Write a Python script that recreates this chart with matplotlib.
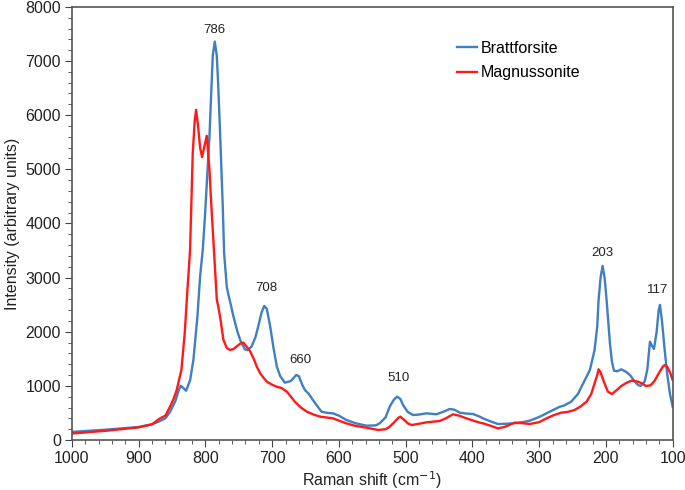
import matplotlib
matplotlib.use("Agg")
import matplotlib.pyplot as plt
from matplotlib.ticker import MultipleLocator

plt.rcParams["font.family"] = ["Liberation Sans", "DejaVu Sans"]

# Brattforsite (blue)
bratt_x = [1000, 950, 900, 880, 870, 860, 853, 845, 840, 837, 833, 829, 823, 818,
           812, 808, 804, 801, 794, 791, 789, 786, 783, 781, 778, 774, 772, 768,
           766, 762, 758, 752, 748, 741, 737, 731, 725, 721, 716, 712, 708, 703,
           698, 693, 688, 681, 672, 664, 660, 655, 651, 645, 639, 632, 626, 617,
           609, 600, 589, 575, 559, 545, 539, 530, 524, 518, 513, 508, 504, 497,
           489, 480, 469, 454, 444, 434, 427, 419, 410, 399, 389, 384, 372, 362,
           350, 339, 325, 314, 299, 288, 279, 270, 262, 252, 242, 234, 224, 217,
           213, 211, 208, 205, 202, 199, 196, 194, 191, 188, 183, 177, 170, 164,
           158, 152, 148, 142, 138, 134, 131, 128, 124, 121, 119, 116, 112, 108,
           104, 100]
bratt_y = [150, 190, 240, 290, 340, 400, 520, 720, 920, 1000, 960, 910, 1100, 1480,
           2280, 3020, 3510, 4070, 5600, 6500, 7100, 7360, 7100, 6600, 5670, 4300,
           3450, 2830, 2710, 2500, 2280, 2000, 1850, 1676, 1660, 1724, 1900, 2094,
           2350, 2476, 2420, 2100, 1700, 1355, 1180, 1059, 1090, 1201, 1180, 1020,
           924, 850, 739, 620, 523, 500, 493, 450, 370, 310, 265, 270, 308, 420,
           616, 740, 801, 760, 647, 520, 462, 470, 493, 475, 520, 573, 560, 505,
           490, 480, 431, 400, 340, 296, 300, 308, 330, 357, 431, 500, 554, 610,
           641, 708, 850, 1047, 1294, 1663, 2100, 2587, 3000, 3216, 3000, 2587,
           2100, 1786, 1450, 1281, 1270, 1306, 1260, 1201, 1100, 1016, 1000, 1078,
           1300, 1817, 1740, 1682, 2000, 2400, 2495, 2200, 1663, 1200, 850, 616]

# Magnussonite (red)
magn_x = [1000, 950, 900, 880, 868, 860, 853, 848, 843, 836, 831, 827, 823, 819,
          816, 814, 811, 808, 805, 802, 798, 794, 791, 787, 783, 778, 773, 768,
          763, 758, 752, 748, 743, 738, 733, 727, 723, 718, 713, 708, 700, 693,
          686, 678, 672, 666, 657, 648, 638, 628, 618, 609, 598, 589, 575, 559,
          541, 530, 524, 517, 511, 508, 503, 496, 491, 480, 469, 449, 440, 429,
          420, 409, 399, 389, 384, 372, 362, 352, 337, 325, 314, 300, 289, 278,
          267, 257, 247, 238, 229, 222, 217, 213, 211, 208, 204, 200, 197, 191,
          184, 177, 170, 162, 152, 145, 140, 133, 127, 120, 115, 112, 108, 104, 100]
magn_y = [120, 170, 234, 290, 400, 450, 616, 750, 924, 1294, 1971, 2772, 3511, 5300,
          5900, 6098, 5800, 5400, 5224, 5400, 5618, 5000, 4300, 3455, 2600, 2279,
          1848, 1700, 1663, 1680, 1740, 1780, 1798, 1720, 1640, 1480, 1355, 1232,
          1150, 1078, 1020, 985, 960, 893, 800, 708, 600, 523, 470, 431, 415, 400,
          350, 308, 260, 228, 185, 200, 246, 330, 410, 431, 380, 300, 277, 300,
          326, 351, 400, 475, 450, 400, 360, 320, 308, 260, 216, 240, 320, 310,
          296, 330, 400, 460, 505, 520, 554, 620, 708, 850, 1047, 1200, 1306, 1250,
          1109, 980, 893, 850, 920, 998, 1050, 1096, 1078, 1040, 998, 1010, 1096,
          1250, 1350, 1386, 1350, 1250, 1109]

peak_labels = ["786", "708", "660", "510", "203", "117"]
label_x = [786, 708, 658, 511, 205, 123]
label_y = [7580, 2800, 1480, 1140, 3460, 2770]

fig, ax = plt.subplots(figsize=(6.85, 4.9), dpi=100)
fig.subplots_adjust(left=0.105, right=0.982, bottom=0.102, top=0.986)

ax.plot(bratt_x, bratt_y, color="#3f7fc2", lw=1.7, label="Brattforsite",
        solid_joinstyle="round")
ax.plot(magn_x, magn_y, color="#ff1a1a", lw=1.7, label="Magnussonite",
        solid_joinstyle="round")

for t, x, y in zip(peak_labels, label_x, label_y):
    ax.text(x, y, t, ha="center", va="center", fontsize=9.5, color="#222222")

ax.set_xlim(1000, 100)
ax.set_ylim(0, 8000)
ax.xaxis.set_major_locator(MultipleLocator(100))
ax.xaxis.set_minor_locator(MultipleLocator(20))
ax.yaxis.set_major_locator(MultipleLocator(1000))
ax.yaxis.set_minor_locator(MultipleLocator(200))
ax.tick_params(which="both", direction="out", colors="#444444", labelcolor="#222222",
               labelsize=11.5, top=False, right=False)
ax.tick_params(which="major", length=5, pad=3)
ax.tick_params(which="minor", length=3)
for s in ax.spines.values():
    s.set_color("#555555")
    s.set_linewidth(1.2)

ax.set_xlabel("Raman shift (cm$^{-1}$)", fontsize=11.5, color="#222222", labelpad=2)
ax.set_ylabel("Intensity (arbitrary units)", fontsize=11.5, color="#222222", labelpad=4)

ax.legend(loc="upper right", bbox_to_anchor=(0.87, 0.955), frameon=False,
          fontsize=11.5, handlelength=1.3, handletextpad=0.2, labelspacing=0.6)

fig.savefig("out.png")
